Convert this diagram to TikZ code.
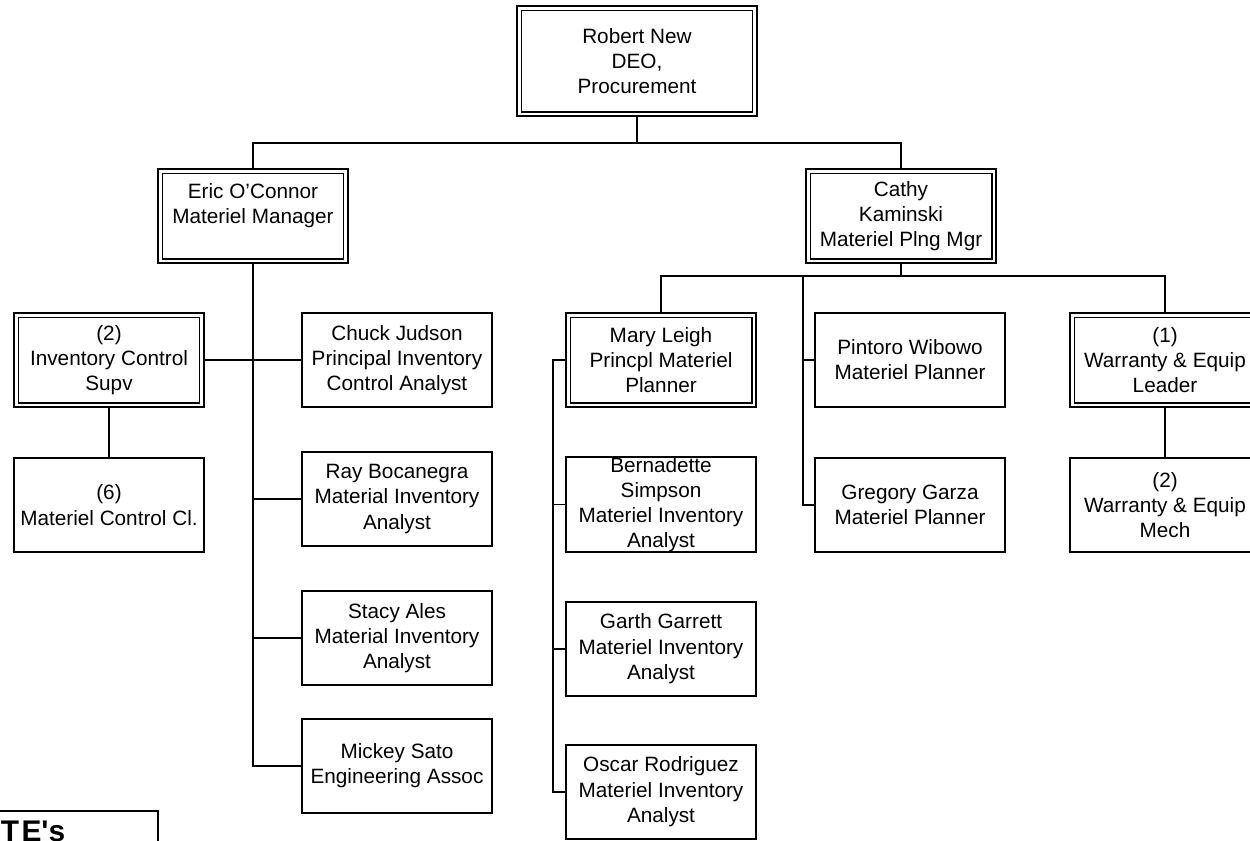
\documentclass[tikz,border=0pt]{standalone}
\usepackage{fontspec}
\setmainfont{Liberation Sans}
\usetikzlibrary{positioning}

\begin{document}
\begin{tikzpicture}[
  x=0.02cm, y=-0.02cm,
  ent/.style={draw,line width=1.1pt,minimum width=3.8cm,minimum height=1.88cm,inner sep=0pt,align=center,font=\fontsize{11.8}{14.3}\selectfont},
  lead/.style={ent,double,line width=0.95pt,double distance=1.7pt,outer sep=1.8pt,minimum width=3.72cm,minimum height=1.8cm},
  tebox/.style={draw,line width=1.1pt,anchor=north west,inner xsep=0.8cm,inner ysep=0.2cm,text width=2.34cm,align=left,font=\fontsize{17}{20}\bfseries\selectfont\addfontfeature{LetterSpace=8}},
  arr/.style={line width=1.1pt}
]
  \useasboundingbox (0,0) rectangle (1250,840);
  \clip (0,0) rectangle (1250,840);

  % top levels
  \node[lead, minimum width=4.72cm, minimum height=2.12cm] (robert) at (637,61) {Robert New\\DEO,\\Procurement};
  \node[lead] (eric) at (253,216) {Eric O’Connor\\Materiel Manager\\~};
  \node[lead] (cathy) at (901,216) {Cathy\\Kaminski\\Materiel Plng Mgr};

  \node[lead] (inv) at (109,360) {(2)\\Inventory Control\\Supv};
  \node[ent] (chuck) at (397,360) {Chuck Judson\\Principal Inventory\\Control Analyst};
  \node[lead] (mary) at (661,360) {Mary Leigh\\Princpl Materiel\\Planner};
  \node[ent] (pintoro) at (910,360) {Pintoro Wibowo\\Materiel Planner};
  \node[lead] (warr) at (1165,360) {(1)\\Warranty \& Equip\\Leader};

  % columns
  \node[ent, below=0.98cm of inv] (matcl) {(6)\\Materiel Control Cl.};
  \node[ent, below=0.86cm of chuck] (ray) {Ray Bocanegra\\Material Inventory\\Analyst};
  \node[ent, below=0.86cm of ray] (stacy) {Stacy Ales\\Material Inventory\\Analyst};
  \node[ent, below=0.64cm of stacy] (mickey) {Mickey Sato\\Engineering Assoc};
  \node[ent, below=0.96cm of mary] (bern) {Bernadette\\Simpson\\Materiel Inventory\\Analyst};
  \node[ent, below=0.96cm of bern] (garth) {Garth Garrett\\Materiel Inventory\\Analyst};
  \node[ent, below=0.94cm of garth] (oscar) {Oscar Rodriguez\\Materiel Inventory\\Analyst};
  \node[ent, below=0.98cm of pintoro] (greg) {Gregory Garza\\Materiel Planner};
  \node[ent, below=0.98cm of warr] (mech) {(2)\\Warranty \& Equip\\Mech};

  \node[tebox] (tes) at (-40,810) {TE\textquotesingle s};

  % connectors
  \draw[arr] (robert.south) -- ++(0,26) coordinate (rbar);
  \draw[arr] (eric.north) |- (rbar) -| (cathy.north);

  \draw[arr] (eric.south) |- (mickey.west);
  \draw[arr] (inv.east) -- (chuck.west);
  \foreach \n in {ray,stacy}
    \draw[arr] (eric.south |- \n.west) -- (\n.west);
  \draw[arr] (inv.south) -- (matcl.north);

  \draw[arr] (cathy.south) -- ++(0,12) coordinate (cbar);
  \draw[arr] (mary.north) |- (cbar) -| (warr.north);
  \path (pintoro.west |- cbar) ++(-11,0) coordinate (ptop);
  \draw[arr] (ptop) |- (greg.west);
  \draw[arr] (ptop |- pintoro.west) -- (pintoro.west);
  \draw[arr] (warr.south) -- (mech.north);

  \path (mary.west) ++(-12,0) coordinate (mtop);
  \draw[arr] (mary.west) -- (mtop) |- (oscar.west);
  \foreach \n in {bern,garth}
    \draw[arr] (mtop |- \n.west) -- (\n.west);
\end{tikzpicture}
\end{document}
